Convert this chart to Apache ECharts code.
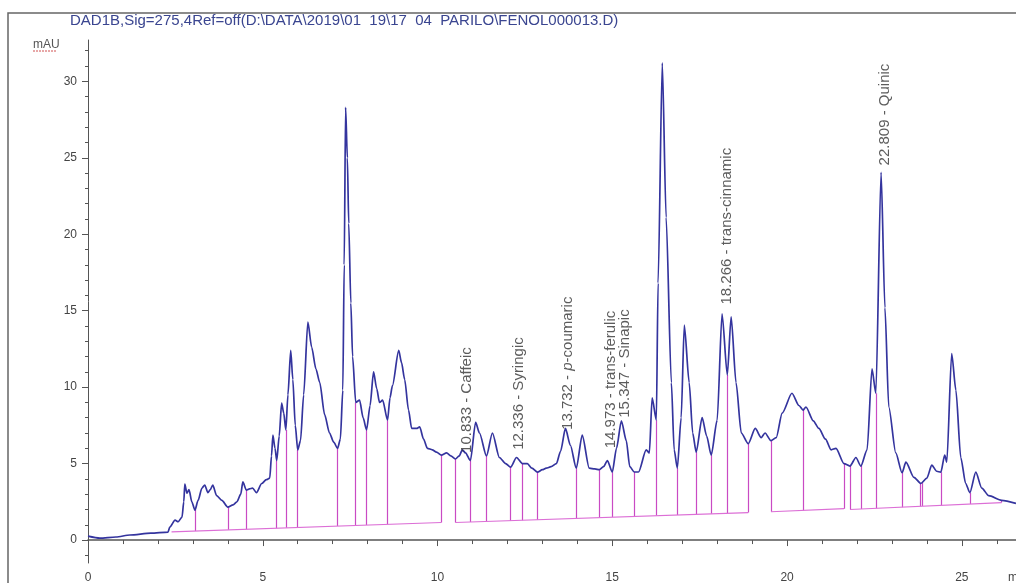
<!DOCTYPE html>
<html>
<head>
<meta charset="utf-8">
<script src="https://cdn.jsdelivr.net/npm/echarts@6/dist/echarts.min.js"></script>
<style>
  html, body { margin: 0; padding: 0; background: #fff; }
  #chart { width: 1016px; height: 583px; }
</style>
</head>
<body>
<div id="chart"></div>
<script>
// chromatogram trace, [minutes, mAU]
let signal = [
  [0.00, 0.26], [0.34, 0.13], [0.8, 0.2], [1.2, 0.33], [1.8, 0.45], [2.29, 0.52],
  [2.34, 0.85], [2.49, 1.3], [2.58, 1.2], [2.69, 1.5], [2.74, 2.5], [2.77, 3.66],
  [2.83, 3.07], [2.89, 3.3], [2.97, 2.5], [3.06, 1.96], [3.15, 2.6], [3.26, 3.4],
  [3.34, 3.6], [3.43, 3.1], [3.5, 3.3], [3.57, 3.6], [3.68, 2.9], [3.83, 2.6],
  [4.0, 2.16], [4.15, 2.3], [4.26, 2.5], [4.37, 3.0], [4.43, 3.8], [4.53, 3.27],
  [4.62, 3.35], [4.71, 3.4], [4.82, 3.1], [4.97, 3.7], [5.1, 3.95], [5.2, 4.05],
  [5.25, 5.5], [5.29, 6.86], [5.35, 6.0], [5.4, 5.2], [5.47, 6.8], [5.54, 8.95],
  [5.6, 8.3], [5.66, 7.2], [5.72, 9.5], [5.8, 12.4], [5.86, 10.5], [5.93, 7.5],
  [6.0, 5.9], [6.08, 6.5], [6.17, 9.5], [6.29, 14.25], [6.4, 12.6], [6.52, 11.2],
  [6.63, 10.3], [6.77, 8.2], [6.91, 7.0], [7.03, 6.4], [7.14, 6.0], [7.22, 6.6],
  [7.29, 9.8], [7.33, 18], [7.37, 28.3], [7.42, 25], [7.46, 20.7], [7.52, 15.5],
  [7.57, 12.0], [7.66, 9.0], [7.77, 9.15], [7.87, 8.0], [7.97, 7.2], [8.07, 8.8],
  [8.17, 11.0], [8.26, 9.9], [8.34, 9.0], [8.43, 9.15], [8.57, 7.84], [8.64, 9.3],
  [8.71, 10.1], [8.89, 12.4], [8.97, 11.6], [9.06, 10.5], [9.17, 8.5], [9.26, 7.3],
  [9.4, 7.3], [9.49, 7.4], [9.6, 6.6], [9.71, 6.0], [9.85, 5.9], [9.97, 5.75],
  [10.11, 5.55], [10.26, 5.7], [10.38, 5.5], [10.51, 5.3], [10.62, 5.5], [10.71, 5.9],
  [10.8, 5.7], [10.94, 5.2], [11.09, 7.7], [11.2, 7.0], [11.4, 5.5], [11.57, 7.0],
  [11.77, 5.4], [11.95, 5.0], [12.09, 4.77], [12.26, 5.4], [12.43, 5.0], [12.57, 5.0],
  [12.7, 4.7], [12.86, 4.44], [13.0, 4.6], [13.11, 4.7], [13.25, 4.8], [13.4, 5.0],
  [13.52, 5.8], [13.66, 7.3], [13.8, 6.2], [13.97, 4.7], [14.14, 6.86], [14.34, 4.7],
  [14.5, 4.65], [14.63, 4.6], [14.75, 4.8], [14.86, 5.2], [15.0, 4.44], [15.12, 6.0],
  [15.26, 7.8], [15.4, 6.5], [15.5, 4.8], [15.63, 4.45], [15.75, 4.45], [15.97, 5.9],
  [16.06, 5.7], [16.14, 9.3], [16.26, 7.84], [16.31, 16.8], [16.43, 31.2], [16.54, 21.1],
  [16.69, 10.3], [16.77, 5.9], [16.86, 4.7], [16.97, 8.0], [17.06, 14.05], [17.2, 10.3],
  [17.3, 7.0], [17.4, 5.75], [17.57, 8.0], [17.7, 6.8], [17.83, 5.55], [18.0, 7.84],
  [18.14, 14.8], [18.29, 10.8], [18.4, 14.6], [18.54, 10.3], [18.69, 7.0], [18.89, 6.3],
  [19.09, 7.3], [19.26, 6.7], [19.37, 7.0], [19.54, 6.5], [19.69, 6.7], [19.86, 8.3],
  [20.14, 9.6], [20.34, 8.8], [20.46, 8.5], [20.54, 8.7], [20.75, 7.8], [20.91, 7.3],
  [21.1, 6.6], [21.26, 5.9], [21.4, 6.0], [21.63, 5.0], [21.8, 4.84], [21.97, 5.4],
  [22.11, 4.84], [22.29, 5.9], [22.43, 11.2], [22.54, 9.6], [22.69, 24.05], [22.8, 15.2],
  [22.91, 8.7], [23.11, 5.7], [23.29, 4.4], [23.4, 5.1], [23.63, 4.1], [23.83, 3.7],
  [24.0, 4.05], [24.14, 4.9], [24.28, 4.5], [24.4, 4.44], [24.51, 5.56], [24.57, 5.1],
  [24.71, 12.2], [24.83, 9.8], [24.97, 5.4], [25.11, 3.7], [25.23, 3.1], [25.4, 4.44],
  [25.57, 3.4], [25.77, 2.9], [26.14, 2.6], [26.55, 2.4]
];

// integration baseline segments (start, end)
let baselines = [
  [[2.39, 0.54], [10.11, 1.15]],
  [[10.51, 1.15], [18.89, 1.8]],
  [[19.54, 1.85], [21.63, 2.05]],
  [[21.8, 2.0], [26.14, 2.45]]
];

// drop lines: [minutes, baseline mAU, signal mAU]
let drops = [
  [3.06, 0.59, 1.96], [4.0, 0.67, 2.16], [4.53, 0.71, 3.27], [5.4, 0.78, 5.2],
  [5.66, 0.8, 7.2], [6.0, 0.83, 5.9], [7.14, 0.92, 6.0], [7.66, 0.96, 9.0],
  [7.97, 0.98, 7.2], [8.57, 1.03, 7.84], [10.11, 1.15, 5.55], [10.51, 1.15, 5.3],
  [10.94, 1.18, 5.2], [11.4, 1.22, 5.5], [12.09, 1.27, 4.77], [12.43, 1.3, 5.0],
  [12.86, 1.33, 4.44], [13.97, 1.42, 4.7], [14.63, 1.47, 4.6], [15.0, 1.5, 4.44],
  [15.63, 1.54, 4.45], [16.26, 1.6, 7.84], [16.86, 1.64, 4.7], [17.4, 1.68, 5.75],
  [17.83, 1.72, 5.55], [18.29, 1.75, 10.8], [18.89, 1.8, 6.3], [19.54, 1.85, 6.5],
  [20.46, 1.94, 8.5], [21.63, 2.05, 5.0], [21.8, 2.0, 4.84], [22.11, 2.03, 4.84],
  [22.54, 2.08, 9.6], [23.29, 2.15, 4.4], [23.8, 2.21, 3.7], [23.87, 2.22, 3.75],
  [24.4, 2.27, 4.44], [25.23, 2.36, 3.1], [26.14, 2.45, 2.6]
];

// identified peaks
let peakTimes = [10.833, 12.336, 13.732, 14.973, 15.347, 18.266, 22.809];
let peakNames = ['Caffeic', 'Syringic', 'p-coumaric', 'trans-ferulic', 'Sinapic', 'trans-cinnamic', 'Quinic'];
let peakLabelY = [5.7, 5.9, 7.2, 6.0, 8.0, 15.4, 24.5];

let yLabels = [0, 5, 10, 15, 20, 25, 30];
let yMinor = [-1, 1, 2, 3, 4, 6, 7, 8, 9, 11, 12, 13, 14, 16, 17, 18, 19, 21, 22, 23, 24, 26, 27, 28, 29, 31, 32];

let chartDom = document.getElementById('chart');
let myChart = echarts.init(chartDom);

let baseData = [];
baselines.forEach(function (seg) {
  baseData.push(seg[0], seg[1], '-');
});

let dropData = drops.map(function (d) {
  return { coords: [[d[0], d[1]], [d[0], d[2]]] };
});

let labelData = peakTimes.map(function (t, i) {
  return { value: [t, peakLabelY[i]], name: peakNames[i] };
});

let axisCol = '#555';

let option = {
  animation: false,
  backgroundColor: '#fff',
  grid: { left: 88, right: 0, top: 40, bottom: 20, outerBoundsMode: 'none' },
  xAxis: {
    type: 'value',
    min: 0,
    max: 26.55,
    interval: 5,
    axisLine: { lineStyle: { color: axisCol, width: 1.5 } },
    axisTick: { length: 6, lineStyle: { color: axisCol } },
    minorTick: { show: true, splitNumber: 5, length: 4, lineStyle: { color: axisCol } },
    axisLabel: { color: '#444', fontSize: 12, fontFamily: 'Liberation Sans', margin: 9, showMaxLabel: false },
    splitLine: { show: false }
  },
  yAxis: [{
    type: 'value',
    min: -1.5,
    max: 32.7,
    axisLine: { show: true, lineStyle: { color: axisCol } },
    axisTick: { show: true, length: 6, customValues: yLabels, lineStyle: { color: axisCol } },
    axisLabel: { customValues: yLabels, color: '#444', fontSize: 12, fontFamily: 'Liberation Sans', margin: 11 },
    splitLine: { show: false }
  }, {
    type: 'value',
    min: -1.5,
    max: 32.7,
    position: 'left',
    axisLine: { show: false },
    axisTick: { show: true, length: 3, customValues: yMinor, lineStyle: { color: axisCol } },
    axisLabel: { show: false },
    splitLine: { show: false }
  }],
  series: [
    {
      name: 'baseline',
      type: 'line',
      data: baseData,
      symbol: 'none',
      connectNulls: false,
      lineStyle: { color: '#dc6fd6', width: 1.2 },
      z: 2
    },
    {
      name: 'drops',
      type: 'lines',
      coordinateSystem: 'cartesian2d',
      data: dropData,
      lineStyle: { color: '#c94ac4', width: 1.2, opacity: 1 },
      z: 2
    },
    {
      name: 'DAD1 B',
      type: 'line',
      data: signal,
      symbol: 'none',
      smooth: 0.25,
      smoothMonotone: 'x',
      lineStyle: { color: '#34349e', width: 1.7 },
      z: 3
    },
    {
      name: 'peaks',
      type: 'scatter',
      data: labelData,
      symbolSize: 1,
      itemStyle: { color: 'rgba(0,0,0,0)' },
      label: {
        show: true,
        position: 'inside',
        rotate: 90,
        align: 'left',
        verticalAlign: 'middle',
        color: '#333',
        fontSize: 15,
        fontFamily: 'Liberation Sans',
        formatter: function (p) {
          let t = p.value[0].toFixed(3);
          if (p.name === 'p-coumaric') {
            return '{n|' + t + ' - }{i|p}{n|-coumaric}';
          }
          return '{n|' + t + ' - ' + p.name + '}';
        },
        rich: {
          n: { color: '#333', fontSize: 15, fontFamily: 'Liberation Sans' },
          i: { color: '#333', fontSize: 15, fontStyle: 'italic', fontFamily: 'Liberation Sans' }
        }
      },
      z: 4
    }
  ],
  graphic: [
    {
      type: 'rect',
      shape: { x: 8, y: 13, width: 1040, height: 600 },
      style: { fill: null, stroke: '#666', lineWidth: 1.5 },
      silent: true
    },
    {
      type: 'text',
      style: {
        x: 70, y: 21,
        text: 'DAD1B,Sig=275,4Ref=off(D:\\DATA\\2019\\01  19\\17  04  PARILO\\FENOL000013.D)',
        font: '15px "Liberation Sans"',
        fill: '#3a4590',
        verticalAlign: 'middle'
      }
    },
    {
      type: 'text',
      style: { x: 33, y: 45, text: 'mAU', font: '12px "Liberation Sans"', fill: '#555', verticalAlign: 'middle' }
    },
    {
      type: 'line',
      shape: { x1: 33, y1: 51, x2: 57, y2: 51 },
      style: { stroke: '#d05050', lineWidth: 1, lineDash: [2, 1] }
    },
    {
      type: 'text',
      style: { x: 1008, y: 578, text: 'min', font: '12px "Liberation Sans"', fill: '#444', verticalAlign: 'middle' }
    }
  ]
};

myChart.setOption(option);
</script>
</body>
</html>
